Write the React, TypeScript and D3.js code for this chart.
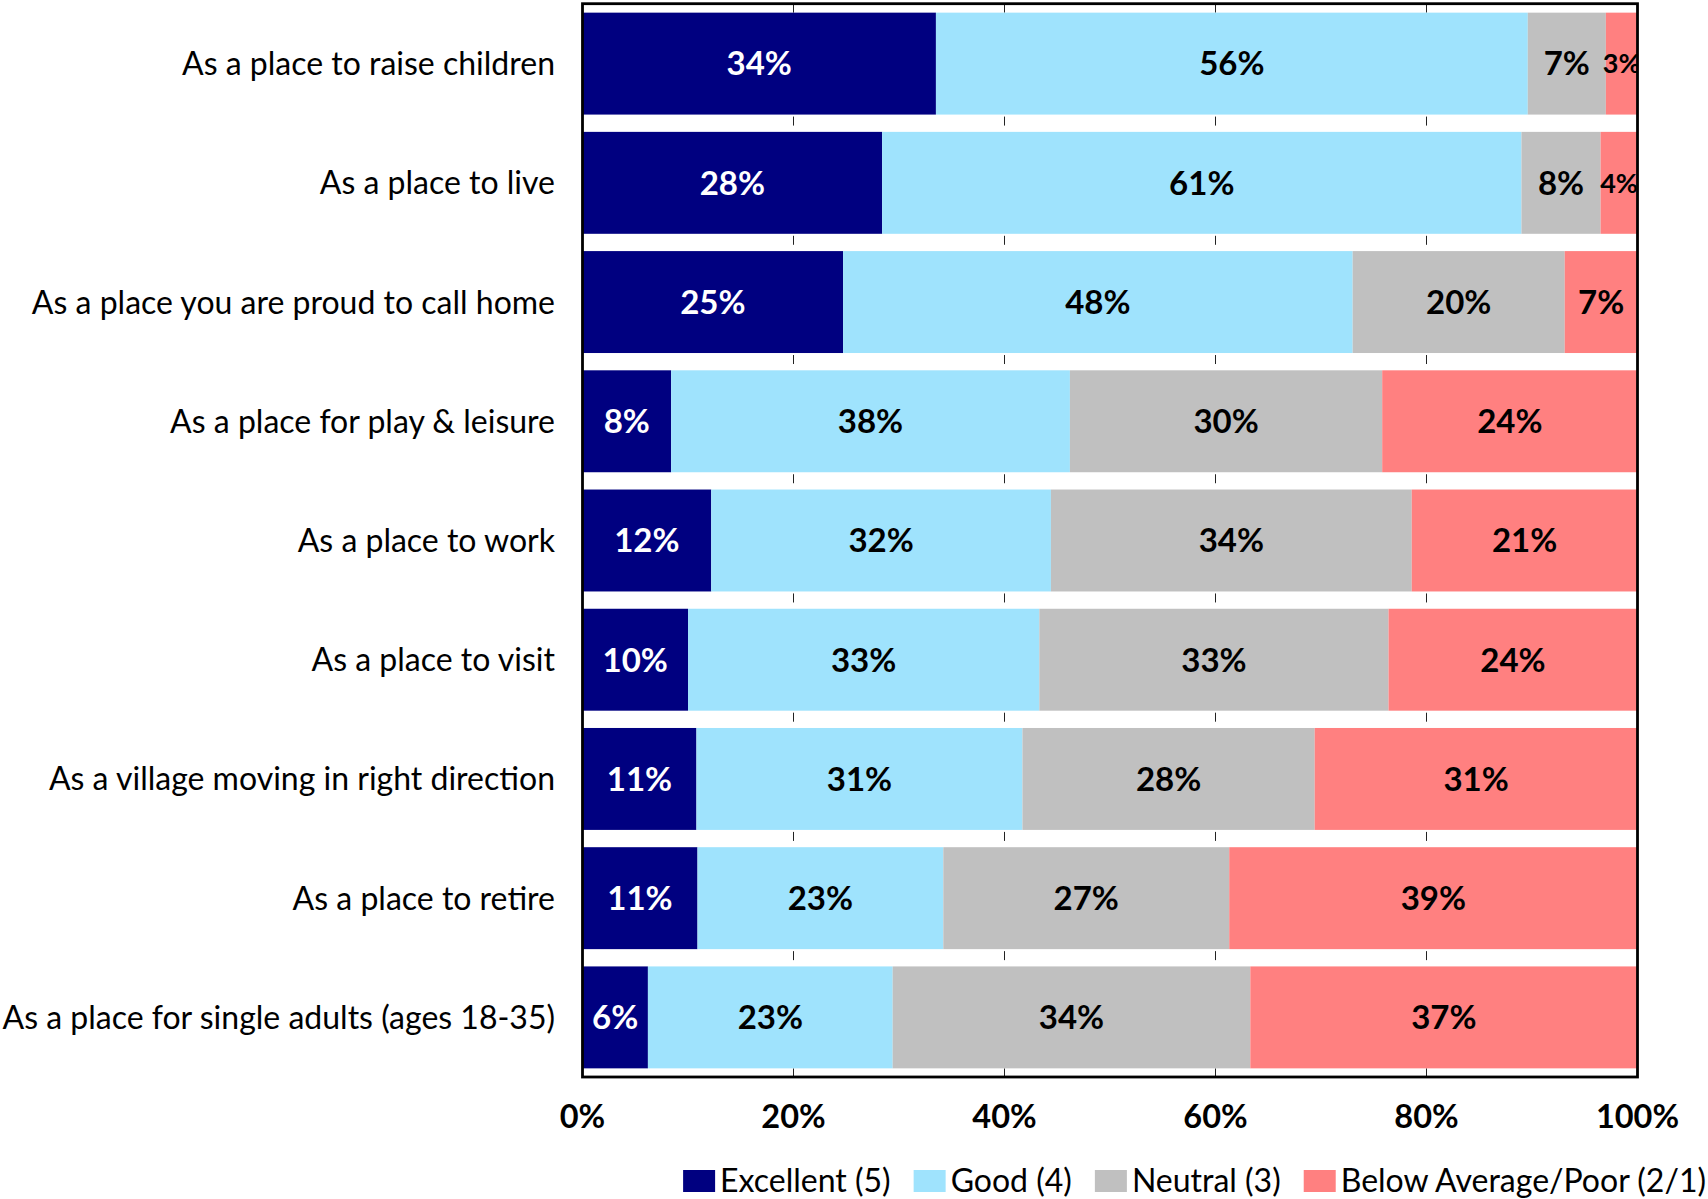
import React, { useEffect, useRef } from "react";
import * as d3 from "d3";

const categories = [
  "As a place to raise children",
  "As a place to live",
  "As a place you are proud to call home",
  "As a place for play & leisure",
  "As a place to work",
  "As a place to visit",
  "As a village moving in right direction",
  "As a place to retire",
  "As a place for single adults (ages 18-35)",
];

const excellent = [33.5, 28.4, 24.7, 8.4, 12.2, 10.0, 10.8, 10.9, 6.2];
const good = [56.1, 60.6, 48.3, 37.8, 32.2, 33.3, 30.9, 23.3, 23.2];
const neutral = [7.4, 7.5, 20.1, 29.6, 34.2, 33.1, 27.7, 27.1, 33.9];
const poor = [3.0, 3.5, 6.9, 24.2, 21.4, 23.6, 30.6, 38.7, 36.7];

const seriesNames = ["Excellent (5)", "Good (4)", "Neutral (3)", "Below Average/Poor (2/1)"];
const seriesColors = ["#000080", "#9FE3FD", "#C0C0C0", "#FF8080"];
const labelColors = ["#FFFFFF", "#000000", "#000000", "#000000"];
const xTicks = [0, 20, 40, 60, 80, 100];

const FONT = "Lato, 'Open Sans', sans-serif";

export default function App() {
  const ref = useRef<SVGSVGElement | null>(null);

  useEffect(() => {
    const svg = d3.select(ref.current);
    svg.selectAll("*").remove();

    const rows = categories.map((c, i) => ({
      cat: c,
      s0: excellent[i],
      s1: good[i],
      s2: neutral[i],
      s3: poor[i],
    }));
    const keys = ["s0", "s1", "s2", "s3"];
    const stacked = d3.stack<any>().keys(keys)(rows);

    const x = d3.scaleLinear().domain([0, 100]).range([582.5, 1637.5]);
    const y = d3
      .scaleBand<string>()
      .domain(categories)
      .range([4, 1077])
      .paddingInner(0.145)
      .paddingOuter(0.0725);

    const defs = svg.append("defs");
    defs
      .append("clipPath")
      .attr("id", "plotclip")
      .append("rect")
      .attr("x", x(0))
      .attr("y", 4)
      .attr("width", x(100) - x(0))
      .attr("height", 1073);

    // tick marks in gaps
    const gridG = svg.append("g");
    const bw = y.bandwidth();
    const segs: [number, number][] = [];
    segs.push([4, y(categories[0])!]);
    for (let i = 0; i < categories.length - 1; i++) {
      const b = y(categories[i])! + bw;
      segs.push([b + 2, b + 11]);
    }
    segs.push([y(categories[categories.length - 1])! + bw, 1077]);
    xTicks
      .filter((t) => t > 0 && t < 100)
      .forEach((t) => {
        segs.forEach(([a, b]) => {
          gridG
            .append("line")
            .attr("x1", x(t))
            .attr("x2", x(t))
            .attr("y1", a)
            .attr("y2", b)
            .attr("stroke", "#222")
            .attr("stroke-width", 1);
        });
      });

    const barsG = svg.append("g").attr("clip-path", "url(#plotclip)");
    stacked.forEach((layer, si) => {
      const g = barsG.append("g");
      layer.forEach((d: any) => {
        const x0 = x(d[0]);
        const x1 = x(d[1]);
        const yy = y(d.data.cat)!;
        g.append("rect")
          .attr("x", x0)
          .attr("y", yy)
          .attr("width", x1 - x0)
          .attr("height", bw)
          .attr("fill", seriesColors[si]);
        const w = x1 - x0;
        g.append("text")
          .attr("x", (x0 + x1) / 2)
          .attr("y", yy + bw / 2)
          .attr("dy", "0.36em")
          .attr("text-anchor", "middle")
          .attr("font-family", FONT)
          .attr("font-weight", "bold")
          .attr("font-size", w < 50 ? 27 : 33)
          .attr("fill", labelColors[si])
          .text(Math.round(d[1] - d[0]) + "%");
      });
    });

    // border
    svg
      .append("rect")
      .attr("x", x(0))
      .attr("y", 3.7)
      .attr("width", x(100) - x(0))
      .attr("height", 1073.3)
      .attr("fill", "none")
      .attr("stroke", "#000")
      .attr("stroke-width", 2.8);

    // category labels
    svg
      .append("g")
      .selectAll("text")
      .data(categories)
      .join("text")
      .attr("x", 555)
      .attr("y", (d) => y(d)! + bw / 2)
      .attr("dy", "0.36em")
      .attr("text-anchor", "end")
      .attr("font-family", FONT)
      .attr("font-size", 32)
      .attr("fill", "#000")
      .text((d) => d);

    // x tick labels
    svg
      .append("g")
      .selectAll("text")
      .data(xTicks)
      .join("text")
      .attr("x", (d) => x(d))
      .attr("y", 1128)
      .attr("text-anchor", "middle")
      .attr("font-family", FONT)
      .attr("font-weight", "bold")
      .attr("font-size", 32.5)
      .attr("fill", "#000")
      .text((d) => d + "%");

    // legend
    const lg = svg.append("g");
    const items = seriesNames.map((name, i) => {
      const g = lg.append("g");
      g.append("rect")
        .attr("x", 0)
        .attr("y", 1170)
        .attr("width", 32)
        .attr("height", 22)
        .attr("fill", seriesColors[i]);
      const t = g
        .append("text")
        .attr("x", 37)
        .attr("y", 1192)
        .attr("font-family", FONT)
        .attr("font-size", 32)
        .attr("fill", "#000")
        .text(name);
      const tw = (t.node() as SVGTextElement).getComputedTextLength();
      return { g, w: 37 + tw };
    });
    const gap = 23;
    const total = items.reduce((s, it) => s + it.w, 0) + gap * (items.length - 1);
    let cx = 1706 - total;
    items.forEach((it) => {
      it.g.attr("transform", `translate(${cx},0)`);
      cx += it.w + gap;
    });
  }, []);

  return (
    <svg
      ref={ref}
      width={1708}
      height={1199}
      style={{ position: "absolute", left: 0, top: 0, background: "#fff" }}
    />
  );
}
